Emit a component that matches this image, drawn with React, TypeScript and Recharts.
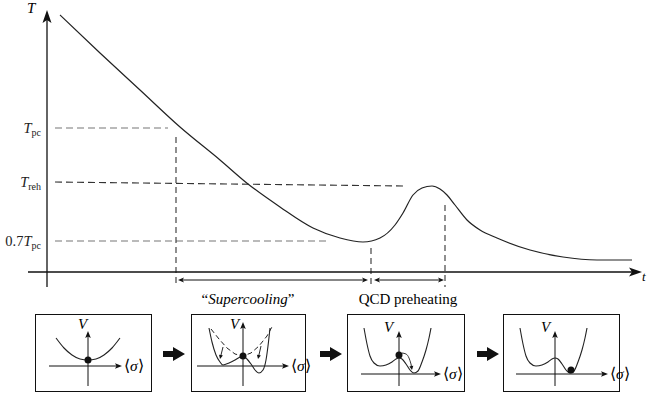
import React from 'react';
import { ComposedChart, LineChart, Line, XAxis, YAxis, ReferenceLine, ReferenceDot } from 'recharts';

// main curve: time t vs temperature T (arbitrary units)
const curveT = [13, 53, 93, 133, 173, 201, 233, 266, 293, 316, 333, 348, 356, 366, 375, 385, 393, 400, 408, 420, 433, 450, 483, 516, 550, 585];
const curveTemp = [257, 219, 182, 145, 112, 88, 65, 44, 34, 30, 34, 47, 59, 77, 84, 86, 83, 77, 67, 52, 42, 34, 22, 15, 12, 12];

const tickValues = [144, 90, 31];
const tickLabels = [
  { pre: '', sub: 'pc' },
  { pre: '', sub: 'reh' },
  { pre: '0.7', sub: 'pc' },
];

// potential sketches
const parabolaX = [-32, -24, -16, -8, 0, 8, 16, 24, 32];
const parabolaV = [28, 18, 11, 7, 6, 7, 11, 18, 28];
const tiltedX = [-34, -31, -27, -23, -20, -14, -8, -3, 0, 4, 8, 12, 16, 20, 23, 25, 27];
const tiltedV = [38, 24, 11, 4, 1, 3, 6, 9, 10, 7, 2, -4, -7, -4, 6, 20, 38];
const oldWellX = [-32, -24, -16, -8, 0, 8, 16, 24, 30];
const oldWellV = [37, 27, 18, 12, 10, 13, 20, 30, 41];
const doubleWellX = [-35, -32, -29, -25, -19, -13, -7, -3, 0, 3, 7, 11, 15, 19, 23, 27, 30, 32];
const doubleWellV = [46, 30, 18, 11, 8, 9, 12, 15, 16, 15, 10, 4, 1, 3, 12, 24, 36, 46];
const rollX = [3, 7, 10, 12];
const rollV = [21, 20, 16, 10];

const serif = 'Liberation Serif';

const toData = (xs: number[], ys: number[]) => xs.map((x, i) => ({ x, y: ys[i] }));

type ArrowOpts = { color: string; width: number; len: number; half: number; start?: boolean; end?: boolean; notch?: number; dash?: string };

function arrowShape(o: ArrowOpts) {
  return (p: any) => {
    const { x1, y1, x2, y2 } = p;
    const dx = x2 - x1;
    const dy = y2 - y1;
    const L = Math.hypot(dx, dy) || 1;
    const ux = dx / L;
    const uy = dy / L;
    const nx = -uy;
    const ny = ux;
    const notch = o.notch ?? 0;
    const head = (tx: number, ty: number, dir: number) => {
      const bx = tx - dir * o.len * ux;
      const by = ty - dir * o.len * uy;
      const mx = tx - dir * (o.len - notch) * ux;
      const my = ty - dir * (o.len - notch) * uy;
      const pts = [
        [tx, ty],
        [bx + o.half * nx, by + o.half * ny],
        [mx, my],
        [bx - o.half * nx, by - o.half * ny],
      ];
      return <polygon points={pts.map((q) => q.join(',')).join(' ')} fill={o.color} />;
    };
    const sx = o.start ? x1 + ux * o.len * 0.6 : x1;
    const sy = o.start ? y1 + uy * o.len * 0.6 : y1;
    const ex = o.end ? x2 - ux * o.len * 0.6 : x2;
    const ey = o.end ? y2 - uy * o.len * 0.6 : y2;
    return (
      <g>
        <line x1={sx} y1={sy} x2={ex} y2={ey} stroke={o.color} strokeWidth={o.width} strokeDasharray={o.dash} />
        {o.start && head(x1, y1, -1)}
        {o.end && head(x2, y2, 1)}
      </g>
    );
  };
}

const bigAxisArrow = arrowShape({ color: '#111', width: 1.3, len: 13, half: 4.5, end: true, notch: 3 });
const spanArrow = arrowShape({ color: '#111', width: 1, len: 6, half: 2.5, start: true, end: true, notch: 1.5 });
const smallAxisArrow = arrowShape({ color: '#111', width: 1, len: 7, half: 2.8, end: true, notch: 1.5 });
const tinyArrow = arrowShape({ color: '#111', width: 0.9, len: 4, half: 2, end: true });

function TTick(props: any) {
  const { x, y, payload } = props;
  const i = tickValues.indexOf(payload.value);
  const lab = tickLabels[i] || tickLabels[0];
  return (
    <text x={x} y={y + 5} textAnchor="end" fontFamily={serif} fontSize={14.5} fill="#222">
      {lab.pre && <tspan>{lab.pre}</tspan>}
      <tspan fontStyle="italic">T</tspan>
      <tspan fontSize={10} dy={3}>{lab.sub}</tspan>
    </text>
  );
}

type PanelProps = {
  left: number;
  top: number;
  w: number;
  h: number;
  ox: number;
  oy: number;
  hAxis: [number, number];
  vAxis: [number, number];
  vLabel: [number, number];
  solid: { x: number; y: number }[];
  dashed?: { x: number; y: number }[];
  roll?: { x: number; y: number }[];
  dot: { x: number; y: number };
  children?: React.ReactNode;
};

function Panel({ left, top, w, h, ox, oy, hAxis, vAxis, vLabel, solid, dashed, roll, dot, children }: PanelProps) {
  const iw = w - 2;
  const ih = h - 2;
  return (
    <div style={{ position: 'absolute', left, top, width: iw, height: ih, border: '1px solid #111' }}>
      <LineChart width={iw} height={ih} margin={{ top: 0, right: 0, bottom: 0, left: 0 }}>
        <XAxis type="number" dataKey="x" domain={[-ox, iw - ox]} hide allowDataOverflow />
        <YAxis type="number" dataKey="y" domain={[-(ih - oy), oy]} hide allowDataOverflow />
        <ReferenceLine segment={[{ x: hAxis[0], y: 0 }, { x: hAxis[1], y: 0 }]} ifOverflow="visible" shape={smallAxisArrow} />
        <ReferenceLine segment={[{ x: 0, y: vAxis[0] }, { x: 0, y: vAxis[1] }]} ifOverflow="visible" shape={smallAxisArrow} />
        {dashed && (
          <Line data={dashed} dataKey="y" type="linear" stroke="#222" strokeWidth={1} strokeDasharray="5 3" dot={false} isAnimationActive={false} />
        )}
        <Line data={solid} dataKey="y" type="monotone" stroke="#222" strokeWidth={1.1} dot={false} isAnimationActive={false} />
        {roll && <Line data={roll} dataKey="y" type="monotone" stroke="#222" strokeWidth={0.9} dot={false} isAnimationActive={false} />}
        {children}
        <ReferenceDot x={dot.x} y={dot.y} r={3.5} fill="#111" stroke="none" ifOverflow="visible" />
      </LineChart>
      <span style={{ position: 'absolute', left: vLabel[0], top: vLabel[1], fontFamily: serif, fontStyle: 'italic', fontSize: 15, lineHeight: '15px' }}>V</span>
      <span style={{ position: 'absolute', left: ox + hAxis[1] + 2, top: oy - 9, fontFamily: serif, fontSize: 15.5, lineHeight: '17px', whiteSpace: 'nowrap' }}>
        {'\u27E8'}<i>σ</i>{'\u27E9'}
      </span>
    </div>
  );
}

function BlockArrow({ left, top }: { left: number; top: number }) {
  return (
    <svg style={{ position: 'absolute', left, top }} width={22} height={14}>
      <polygon points="0,4 10,4 10,0 22,7 10,14 10,10 0,10" fill="#111" />
    </svg>
  );
}

export default function App() {
  const curve = toData(curveT, curveTemp);
  return (
    <div style={{ position: 'absolute', left: 0, top: 0, width: 647, height: 395, overflow: 'hidden', background: '#fff' }}>
      <ComposedChart width={647} height={300} margin={{ top: 0, right: 10, bottom: 0, left: 0 }}>
        <XAxis type="number" dataKey="x" domain={[0, 590]} hide allowDataOverflow />
        <YAxis
          type="number"
          dataKey="y"
          domain={[-28, 272]}
          width={47}
          ticks={tickValues}
          interval={0}
          tick={TTick}
          axisLine={false}
          tickLine={false}
          tickSize={0}
          tickMargin={6}
          allowDataOverflow
        />
        {/* guide lines */}
        <ReferenceLine segment={[{ x: 8, y: 144 }, { x: 121, y: 144 }]} ifOverflow="visible" stroke="#777" strokeWidth={1.2} strokeDasharray="7 4" />
        <ReferenceLine segment={[{ x: 8, y: 90 }, { x: 356, y: 86 }]} ifOverflow="visible" stroke="#333" strokeWidth={1.1} strokeDasharray="7 4" />
        <ReferenceLine segment={[{ x: 8, y: 31 }, { x: 283, y: 31 }]} ifOverflow="visible" stroke="#777" strokeWidth={1.2} strokeDasharray="7 4" />
        <ReferenceLine segment={[{ x: 129, y: 135 }, { x: 129, y: -15 }]} ifOverflow="visible" stroke="#333" strokeWidth={1.1} strokeDasharray="6 4" />
        <ReferenceLine segment={[{ x: 324, y: 24 }, { x: 324, y: -15 }]} ifOverflow="visible" stroke="#333" strokeWidth={1.1} strokeDasharray="6 4" />
        <ReferenceLine segment={[{ x: 398, y: 67 }, { x: 398, y: -15 }]} ifOverflow="visible" stroke="#333" strokeWidth={1.1} strokeDasharray="6 4" />
        {/* axes */}
        <ReferenceLine segment={[{ x: -19, y: 0 }, { x: 595, y: 0 }]} ifOverflow="visible" shape={bigAxisArrow} />
        <ReferenceLine segment={[{ x: 0, y: -15 }, { x: 0, y: 262 }]} ifOverflow="visible" shape={bigAxisArrow} />
        {/* interval arrows */}
        <ReferenceLine segment={[{ x: 131, y: -8 }, { x: 321, y: -8 }]} ifOverflow="visible" shape={spanArrow} />
        <ReferenceLine segment={[{ x: 327, y: -8 }, { x: 397, y: -8 }]} ifOverflow="visible" shape={spanArrow} />
        <Line data={curve} dataKey="y" type="monotone" stroke="#222" strokeWidth={1.2} dot={false} isAnimationActive={false} />
      </ComposedChart>

      <span style={{ position: 'absolute', left: 27, top: 1, fontFamily: serif, fontStyle: 'italic', fontSize: 15, lineHeight: '15px' }}>T</span>
      <span style={{ position: 'absolute', left: 642, top: 270, fontFamily: serif, fontStyle: 'italic', fontSize: 13, lineHeight: '13px' }}>t</span>
      <div style={{ position: 'absolute', left: 248, top: 291, transform: 'translateX(-50%)', fontFamily: serif, fontSize: 15, lineHeight: '16px', whiteSpace: 'nowrap' }}>
        {'\u201C'}<i>Supercooling</i>{'\u201D'}
      </div>
      <div style={{ position: 'absolute', left: 408, top: 291, transform: 'translateX(-50%)', fontFamily: serif, fontSize: 15, lineHeight: '16px', whiteSpace: 'nowrap' }}>
        QCD preheating
      </div>

      <Panel left={35} top={314} w={117} h={78} ox={52} oy={51} hAxis={[-39, 34]} vAxis={[-20, 35]} vLabel={[42, 2]} solid={toData(parabolaX, parabolaV)} dot={{ x: 0, y: 6 }} />
      <BlockArrow left={163} top={347} />
      <Panel left={191} top={314} w={115} h={78} ox={51} oy={51} hAxis={[-46, 46]} vAxis={[-20, 44]} vLabel={[38, 2]} solid={toData(tiltedX, tiltedV)} dashed={toData(oldWellX, oldWellV)} dot={{ x: 0, y: 10 }}>
        <ReferenceLine segment={[{ x: -20, y: 19 }, { x: -23, y: 7 }]} ifOverflow="visible" shape={tinyArrow} />
        <ReferenceLine segment={[{ x: 18, y: 20 }, { x: 15, y: 7 }]} ifOverflow="visible" shape={tinyArrow} />
      </Panel>
      <BlockArrow left={320} top={347} />
      <Panel left={347} top={314} w={118} h={78} ox={51} oy={59} hAxis={[-38, 42]} vAxis={[-12, 43]} vLabel={[36, 5]} solid={toData(doubleWellX, doubleWellV)} roll={toData(rollX, rollV)} dot={{ x: 0, y: 19 }}>
        <ReferenceLine segment={[{ x: 12, y: 10 }, { x: 13, y: 4 }]} ifOverflow="visible" shape={tinyArrow} />
      </Panel>
      <BlockArrow left={477} top={347} />
      <Panel left={503} top={314} w={117} h={78} ox={51} oy={59} hAxis={[-39, 53]} vAxis={[-12, 43]} vLabel={[37, 5]} solid={toData(doubleWellX, doubleWellV)} dot={{ x: 16, y: 4 }} />
    </div>
  );
}
